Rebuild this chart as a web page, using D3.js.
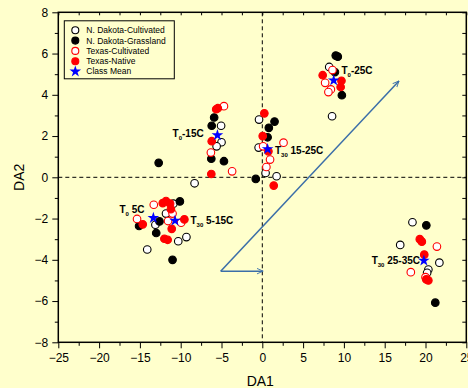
<!DOCTYPE html>
<html>
<head>
<meta charset="utf-8">
<style type="text/css">
body {
  margin: 0;
  background: #ffffcc;
  font-family: "Liberation Sans", Arial, sans-serif;
}

.axis text {
  font-size: 12px;
  fill: #000;
}

.axis path,
.axis line {
  stroke: #000;
  stroke-width: 1px;
}

.legend text {
  font-size: 8.5px;
  fill: #000;
}

.group-label {
  font-size: 10px;
  font-weight: bold;
}
</style>
</head>
<body>
<script src="https://cdnjs.cloudflare.com/ajax/libs/d3/7.8.5/d3.min.js"></script>
<script>
// series: [DA1, DA2]
var ndCultivated = [
  [-5.05, 2.5], [-5.0, 1.7], [-5.6, 1.5], [-8.3, -0.29],
  [-0.4, 2.8], [-0.45, 1.44], [0.4, 0.21], [1.75, 0.05],
  [-10.9, -1.28], [-11.8, -1.76], [-13.1, -2.3], [-10.3, -3.1], [-9.3, -2.9], [-14.1, -3.5],
  [8.2, 5.35], [8.55, 2.96],
  [18.4, -2.18], [16.9, -3.28], [21.7, -4.14], [20.35, -4.47], [20.2, -4.63]
];
var ndGrassland = [
  [-5.9, 2.9], [-6.2, 2.5], [-6.25, 0.9], [-4.7, 0.78], [-12.7, 0.7],
  [1.5, 2.7], [0.8, 2.4], [0.65, 1.94], [-0.8, -0.08],
  [-10.1, -1.17], [-15.1, -2.36], [-12.6, -2.14], [-13.0, -2.7], [-11.0, -4.0],
  [9.0, 5.9], [9.25, 5.85], [8.9, 5.1], [9.75, 3.98],
  [20.1, -2.33], [21.2, -6.08]
];
var txCultivated = [
  [-4.7, 3.45], [-6.3, 1.2], [-3.7, 0.29],
  [2.6, 1.68], [0.1, 1.5], [0.95, 0.86], [0.5, 0.5],
  [-13.3, -1.33], [-11.0, -1.76], [-15.35, -2.02], [-11.55, -2.12], [-9.95, -2.2],
  [8.6, 5.2], [7.7, 4.58], [8.4, 4.26], [8.1, 4.13],
  [21.4, -3.36], [18.2, -4.6], [20.0, -4.84]
];
var txNative = [
  [-5.65, 3.3], [-5.45, 3.35], [-6.2, 1.75], [-6.25, 0.16],
  [0.25, 3.1], [0.05, 2.0], [0.75, 1.26], [1.4, -0.4],
  [-12.2, -1.25], [-11.8, -1.15], [-11.3, -1.28], [-11.2, -1.55], [-14.65, -2.28],
  [-9.55, -2.04], [-11.1, -2.5], [-12.0, -2.98], [-11.6, -3.03],
  [7.4, 4.95], [9.7, 4.68], [9.6, 4.38],
  [19.3, -3.0], [19.55, -3.12], [19.85, -3.75], [20.1, -4.95], [20.35, -5.0]
];
var classMeans = [
  [-5.5, 2.04], [0.65, 1.37], [-13.35, -1.97], [-10.7, -2.1], [8.75, 4.7], [19.8, -4.04]
];

// group labels: position, subscript, rest of text
var groupLabels = [
  { x: -11.0, y: 1.95, sub: "0", rest: "-15C" },
  { x: 1.55, y: 1.15, sub: "30", rest: " 15-25C" },
  { x: -17.5, y: -1.73, sub: "0", rest: " 5C" },
  { x: -8.8, y: -2.25, sub: "30", rest: " 5-15C" },
  { x: 9.7, y: 5.0, sub: "0", rest: "-25C" },
  { x: 13.4, y: -4.2, sub: "30", rest: " 25-35C" }
];

var arrows = [
  { x1: -5.1, y1: -4.55, x2: 0.1, y2: -4.55 },
  { x1: -5.1, y1: -4.55, x2: 16.75, y2: 4.67 }
];

var series = [
  { name: "N. Dakota-Cultivated", data: ndCultivated, stroke: "#000", fill: "#fff" },
  { name: "N. Dakota-Grassland", data: ndGrassland, stroke: "#000", fill: "#000" },
  { name: "Texas-Cultivated", data: txCultivated, stroke: "#ff0000", fill: "#fff" },
  { name: "Texas-Native", data: txNative, stroke: "#ff0000", fill: "#ff0000" }
];

var margin = { top: 12.3, right: 1.7, bottom: 45.7, left: 58.3 };
var width = 468 - margin.left - margin.right;
var height = 388 - margin.top - margin.bottom;

var svg = d3.select("body").append("svg")
    .attr("width", 468)
    .attr("height", 388)
    .style("display", "block")
  .append("g")
    .attr("transform", "translate(" + margin.left + "," + margin.top + ")");

var x = d3.scaleLinear().domain([-25, 25]).range([0, width]);
var y = d3.scaleLinear().domain([-8, 8]).range([height, 0]);

var xMajor = d3.range(-25, 26, 5);
var xMinor = d3.range(-22.5, 25, 5);
var yMajor = d3.range(-8, 9, 2);
var yMinor = d3.range(-7, 8, 2);
var xAll = d3.range(-25, 25.1, 2.5);
var yAll = d3.range(-8, 8.1, 1);

// bottom axis
svg.append("g")
  .attr("class", "axis")
  .attr("transform", "translate(0," + height + ")")
  .call(d3.axisBottom(x).tickValues(xMinor).tickSize(3.5).tickFormat(""))
  .call(function(g) { g.select(".domain").remove(); });

svg.append("g")
  .attr("class", "axis")
  .attr("transform", "translate(0," + height + ")")
  .call(d3.axisBottom(x).tickValues(xMajor).tickSize(6).tickPadding(5))
  .call(function(g) { g.select(".domain").remove(); });

// left axis
svg.append("g")
  .attr("class", "axis")
  .call(d3.axisLeft(y).tickValues(yMinor).tickSize(3.5).tickFormat(""))
  .call(function(g) { g.select(".domain").remove(); });

svg.append("g")
  .attr("class", "axis")
  .call(d3.axisLeft(y).tickValues(yMajor).tickSize(6).tickPadding(4))
  .call(function(g) { g.select(".domain").remove(); });

// top and right ticks point inward
svg.append("g")
  .attr("class", "axis")
  .call(d3.axisBottom(x).tickValues(xAll).tickSize(3).tickFormat(""))
  .call(function(g) { g.select(".domain").remove(); });

svg.append("g")
  .attr("class", "axis")
  .attr("transform", "translate(" + width + ",0)")
  .call(d3.axisLeft(y).tickValues(yAll).tickSize(4).tickFormat(""))
  .call(function(g) { g.select(".domain").remove(); });

svg.append("rect")
  .attr("width", width)
  .attr("height", height)
  .attr("fill", "none")
  .attr("stroke", "#000")
  .attr("stroke-width", 1.5);

// zero lines
svg.append("line")
  .attr("x1", 0).attr("x2", width)
  .attr("y1", y(0)).attr("y2", y(0))
  .attr("stroke", "#000")
  .attr("stroke-dasharray", "4,3");

svg.append("line")
  .attr("x1", x(0)).attr("x2", x(0))
  .attr("y1", 0).attr("y2", height)
  .attr("stroke", "#000")
  .attr("stroke-dasharray", "4,3");

// arrows
var arrowColor = "#3b6ea8";
svg.append("defs").append("marker")
    .attr("id", "head")
    .attr("viewBox", "0 -5 10 10")
    .attr("refX", 9)
    .attr("refY", 0)
    .attr("markerWidth", 7)
    .attr("markerHeight", 7)
    .attr("markerUnits", "userSpaceOnUse")
    .attr("orient", "auto")
  .append("path")
    .attr("d", "M0,-4L9,0L0,4")
    .attr("fill", "none")
    .attr("stroke", arrowColor)
    .attr("stroke-width", 1.3);

svg.selectAll(".arrow")
  .data(arrows)
  .enter().append("line")
    .attr("class", "arrow")
    .attr("x1", function(d) { return x(d.x1); })
    .attr("y1", function(d) { return y(d.y1); })
    .attr("x2", function(d) { return x(d.x2); })
    .attr("y2", function(d) { return y(d.y2); })
    .attr("stroke", arrowColor)
    .attr("stroke-width", 1.5)
    .attr("marker-end", "url(#head)");

// points
series.forEach(function(s) {
  svg.append("g").selectAll("circle")
    .data(s.data)
    .enter().append("circle")
      .attr("cx", function(d) { return x(d[0]); })
      .attr("cy", function(d) { return y(d[1]); })
      .attr("r", 3.8)
      .attr("fill", s.fill)
      .attr("stroke", s.stroke)
      .attr("stroke-width", 1.1);
});

var star = d3.symbol().type(d3.symbolStar).size(42);

svg.append("g").selectAll("path")
  .data(classMeans)
  .enter().append("path")
    .attr("d", star)
    .attr("transform", function(d) { return "translate(" + x(d[0]) + "," + y(d[1]) + ")"; })
    .attr("fill", "#0000ff");

// group labels
var lab = svg.selectAll(".group-label")
  .data(groupLabels)
  .enter().append("text")
    .attr("class", "group-label")
    .attr("x", function(d) { return x(d.x); })
    .attr("y", function(d) { return y(d.y); });

lab.append("tspan").text("T");
lab.append("tspan")
  .attr("dy", 3)
  .style("font-size", "6px")
  .text(function(d) { return d.sub; });
lab.append("tspan")
  .attr("dy", -3)
  .text(function(d) { return d.rest; });

// legend
var legendItems = series.map(function(s) { return { name: s.name, stroke: s.stroke, fill: s.fill }; });
legendItems.push({ name: "Class Mean", star: true });

var legend = svg.append("g")
  .attr("class", "legend")
  .attr("transform", "translate(6,8.5)");

legend.append("rect")
  .attr("width", 110)
  .attr("height", 58)
  .attr("fill", "#ffffcc")
  .attr("stroke", "#000")
  .attr("stroke-width", 1);

var item = legend.selectAll(".item")
  .data(legendItems)
  .enter().append("g")
    .attr("class", "item")
    .attr("transform", function(d, i) { return "translate(11," + (9.5 + i * 10.3) + ")"; });

item.filter(function(d) { return !d.star; })
  .append("circle")
    .attr("r", 3.5)
    .attr("fill", function(d) { return d.fill; })
    .attr("stroke", function(d) { return d.stroke; })
    .attr("stroke-width", 1.1);

item.filter(function(d) { return d.star; })
  .append("path")
    .attr("d", star)
    .attr("fill", "#0000ff");

item.append("text")
  .attr("x", 11)
  .attr("dy", "0.35em")
  .text(function(d) { return d.name; });

// axis titles
svg.append("text")
  .attr("x", width / 2 - 2)
  .attr("y", height + 44)
  .attr("text-anchor", "middle")
  .style("font-size", "14px")
  .text("DA1");

svg.append("text")
  .attr("transform", "rotate(-90)")
  .attr("x", -y(0))
  .attr("y", -34)
  .attr("text-anchor", "middle")
  .style("font-size", "14px")
  .text("DA2");
</script>
</body>
</html>
